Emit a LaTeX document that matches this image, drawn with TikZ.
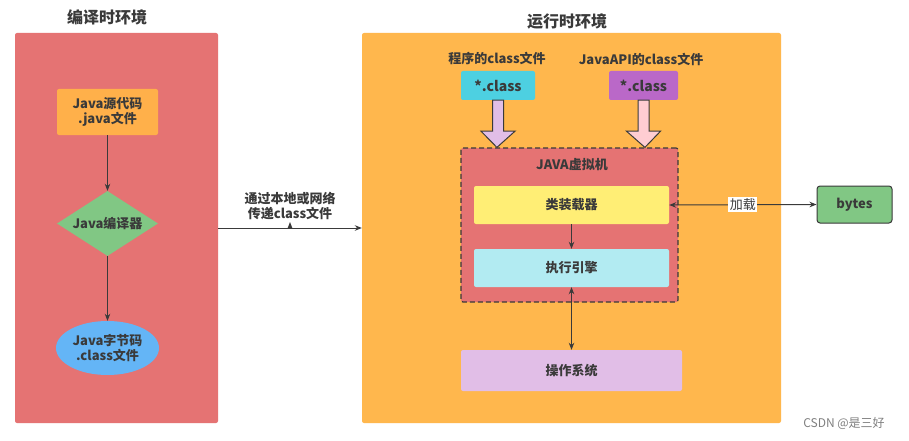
\documentclass[tikz,border=0pt]{standalone}
\usepackage{fontspec}
\setmainfont{Noto Sans CJK SC}
\usetikzlibrary{arrows.meta,shapes.geometric,calc}
\definecolor{txt}{HTML}{3A3A3A}
\definecolor{redbg}{HTML}{E57373}
\definecolor{orangebg}{HTML}{FFB74D}
\definecolor{srcbox}{HTML}{FFB04A}
\definecolor{greenc}{HTML}{81C784}
\definecolor{bluec}{HTML}{64B5F6}
\definecolor{cyanc}{HTML}{4DD0E1}
\definecolor{purplec}{HTML}{BA68C8}
\definecolor{lpurple}{HTML}{E1BEE7}
\definecolor{lpink}{HTML}{FFCDD2}
\definecolor{yellowc}{HTML}{FFEE75}
\definecolor{lcyan}{HTML}{B2EBF2}
\begin{document}
\begin{tikzpicture}[x=1pt,y=-1pt,
  every node/.style={text=txt,font=\bfseries\fontsize{13}{15.5}\selectfont,align=center,inner sep=0pt},
  panel/.style={rounded corners=2pt,draw=none},
  titletext/.style={font=\bfseries\fontsize{16}{19}\selectfont},
  boxn/.style={rounded corners=2pt,draw=none},
  con/.style={draw=txt,line width=1pt,-{Stealth[length=7pt,width=5.5pt]}},
  dcon/.style={draw=txt,line width=1pt,{Stealth[length=7pt,width=5.5pt]}-{Stealth[length=7pt,width=5.5pt]}},
  blockarrow/.style={draw=txt,line width=1pt,line join=miter}]
\useasboundingbox (0,0) rectangle (909,441);
\fill[white] (0,0) rectangle (909,441);
% panels
\node[panel,fill=redbg,minimum width=203pt,minimum height=390pt] (left) at (116.5,228) {};
\node[panel,fill=orangebg,minimum width=419pt,minimum height=390pt] (right) at (571.5,228) {};
\node[titletext] (lt) at (107,17) {编译时环境};
\node[titletext] (rt) at (567,21) {运行时环境};
% left content
\node[boxn,fill=srcbox,minimum width=101pt,minimum height=46pt] (src) at (107.5,112) {Java源代码\\.java文件};
\node[diamond,shape aspect=1.55,fill=greenc,minimum width=101pt,minimum height=65pt,inner sep=0pt] (comp) at (107.5,223.5) {};
\node (compt) at (comp.center) {Java编译器};
\node[ellipse,fill=bluec,minimum width=103pt,minimum height=54pt] (bc) at (107.5,348) {Java字节码\\.class文件};
\draw[con] (src) -- (comp);
\draw[con] (comp) -- (bc);
% transfer
\node (tr) at (290,206) {通过本地或网络\\传递class文件};
\draw[con] (left.east) -- (right.west);
\coordinate (mk) at (290,228);
\fill[txt] ($(mk)+(-2.5,0.5)$) -- ($(mk)+(2.5,0.5)$) -- ($(mk)+(0,-6)$) -- cycle;
% right content
\node (l1) at (497,59) {程序的class文件};
\node (l2) at (641,59) {JavaAPI的class文件};
\node[boxn,fill=cyanc,minimum width=74pt,minimum height=29pt,font=\bfseries\fontsize{14}{16}\selectfont] (c1) at (498,85.5) {*.class};
\node[boxn,fill=purplec,minimum width=69pt,minimum height=29pt,font=\bfseries\fontsize{14}{16}\selectfont] (c2) at (643.5,85.5) {*.class};
\node[draw=txt,dash pattern=on 5pt off 3pt,line width=1.2pt,rounded corners=2pt,fill=redbg,minimum width=217pt,minimum height=154pt] (jvm) at (569.5,225) {};
\node (jt) at (572,165) {JAVA虚拟机};
\node[boxn,fill=yellowc,minimum width=195pt,minimum height=38pt] (cl) at (571.5,205) {类装载器};
\node[boxn,fill=lcyan,minimum width=195pt,minimum height=38pt] (ee) at (571.5,268) {执行引擎};
\node[boxn,fill=lpurple,minimum width=221pt,minimum height=41pt] (os) at (571.5,370.5) {操作系统};
\node[rounded corners=3pt,draw=txt,line width=1pt,fill=greenc,minimum width=75pt,minimum height=37pt] (by) at (854.5,204.5) {bytes};
% block arrows
\draw[blockarrow,fill=lpurple] ($(c1.south)+(-5.5,0)$) -- ($(c1.south)+(5.5,0)$) -- ($(c1.south)+(5.5,31)$) -- ($(c1.south)+(17,31)$) -- ($(jvm.north west)+(36.5,0)$) -- ($(c1.south)+(-17,31)$) -- ($(c1.south)+(-5.5,31)$) -- cycle;
\draw[blockarrow,fill=lpink] ($(c2.south)+(-5.5,0)$) -- ($(c2.south)+(5.5,0)$) -- ($(c2.south)+(5.5,31)$) -- ($(c2.south)+(17,31)$) -- ($(jvm.north west)+(184.5,0)$) -- ($(c2.south)+(-17,31)$) -- ($(c2.south)+(-5.5,31)$) -- cycle;
% connectors
\draw[con] (cl) -- (ee);
\draw[dcon] (ee.south) -- (os.north);
\draw[dcon] (cl.east) -- node[fill=white,inner sep=1.5pt,font=\fontsize{13}{15}\selectfont] (ld) {加载} (by.west);
% watermark
\node[font=\fontsize{12}{14}\selectfont,text=gray] (wm) at (844,423) {CSDN @是三好};
\end{tikzpicture}
\end{document}
